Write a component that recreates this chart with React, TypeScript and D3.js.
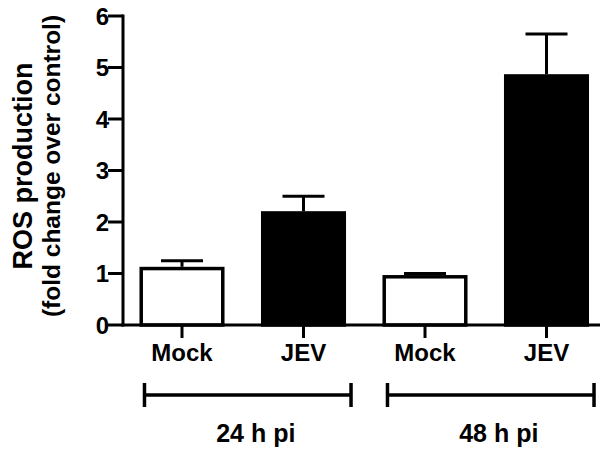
import React from 'react';
import * as d3 from 'd3';

const categories = ['Mock', 'JEV', 'Mock', 'JEV'];
const means = [1.13, 2.21, 0.97, 4.87];
const errors = [0.12, 0.29, 0.03, 0.78];
const fills = ['#fff', '#000', '#fff', '#000'];
const yTicks = [0, 1, 2, 3, 4, 5, 6];
const groups = [
	{ label: '24 h pi', from: 0, to: 1 },
	{ label: '48 h pi', from: 2, to: 3 },
];

const W = 600;
const H = 450;
const font = "Arial, 'Liberation Sans', Helvetica, sans-serif";

const App = () => {
	const keys = categories.map((c, i) => `${c}-${i}`);

	const x = d3.scaleBand().domain(keys).range([121.25, 607.25]).paddingInner(0.3).paddingOuter(0.15);
	const y = d3.scaleLinear().domain([0, 6]).range([325, 16]);
	const bw = x.bandwidth();
	const axisX = 123;

	return (
		<svg width={W} height={H} style={{ position: 'absolute', left: 0, top: 0, background: '#fff' }} fontFamily={font} fontWeight="bold">
			{/* bars */}
			{keys.map((k, i) => (
				<rect
					key={k}
					x={x(k)! + 1.75}
					y={y(means[i]) + 1.75}
					width={bw - 3.5}
					height={y(0) - y(means[i]) - 1.75}
					fill={fills[i]}
					stroke="#000"
					strokeWidth={3.5}
				/>
			))}

			{/* error bars (upper only) */}
			{keys.map((k, i) => {
				const cx = x(k)! + bw / 2;
				const top = y(means[i] + errors[i]);
				return (
					<g key={`e-${k}`} stroke="#000" strokeWidth={3}>
						<line x1={cx} x2={cx} y1={y(means[i])} y2={top} />
						<line x1={cx - 21} x2={cx + 21} y1={top} y2={top} />
					</g>
				);
			})}

			{/* y axis */}
			<line x1={axisX} x2={axisX} y1={y(6) - 1.5} y2={y(0) + 1.5} stroke="#000" strokeWidth={3} />
			{yTicks.map((t) => (
				<g key={t}>
					<line x1={axisX - 15} x2={axisX} y1={y(t)} y2={y(t)} stroke="#000" strokeWidth={3} />
					<text x={axisX - 14} y={y(t)} dy="0.36em" textAnchor="end" fontSize={24}>
						{t}
					</text>
				</g>
			))}

			{/* x axis */}
			<line x1={axisX - 1.5} x2={W} y1={y(0)} y2={y(0)} stroke="#000" strokeWidth={3} />
			{keys.map((k, i) => {
				const cx = x(k)! + bw / 2;
				return (
					<g key={`t-${k}`}>
						<line x1={cx} x2={cx} y1={y(0)} y2={y(0) + 13} stroke="#000" strokeWidth={3} />
						<text x={cx} y={361} textAnchor="middle" fontSize={24}>
							{categories[i]}
						</text>
					</g>
				);
			})}

			{/* group brackets */}
			{groups.map((g) => {
				const x1 = x(keys[g.from])! + 5;
				const x2 = x(keys[g.to])! + bw + 5;
				return (
					<g key={g.label}>
						<g stroke="#000" strokeWidth={3.5}>
							<line x1={x1} x2={x2} y1={395} y2={395} />
							<line x1={x1} x2={x1} y1={383} y2={407} />
							<line x1={x2} x2={x2} y1={383} y2={407} />
						</g>
						<text x={(x1 + x2) / 2 + 8} y={442} textAnchor="middle" fontSize={25}>
							{g.label}
						</text>
					</g>
				);
			})}

			{/* y axis title */}
			<g transform="translate(0,166) rotate(-90)">
				<text x={0} y={32} textAnchor="middle" fontSize={27}>
					ROS production
				</text>
				<text x={0} y={60} textAnchor="middle" fontSize={24.5}>
					(fold change over control)
				</text>
			</g>
		</svg>
	);
};

export default App;
